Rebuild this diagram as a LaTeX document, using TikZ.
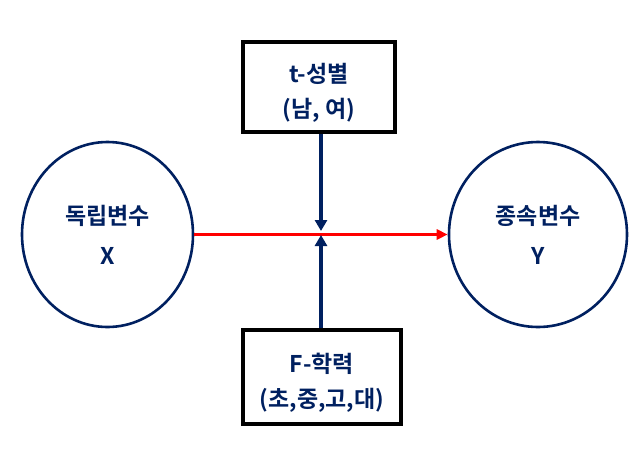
\documentclass[tikz,border=0pt]{standalone}
\usepackage{fontspec}
\newfontfamily\kr{Noto Sans CJK KR Bold}
\usetikzlibrary{arrows.meta,shapes.geometric}
\definecolor{navy}{RGB}{0,32,96}
\begin{document}
\begin{tikzpicture}[x=1pt,y=-1pt,
  lbl/.style={text=navy,font=\kr\fontsize{23}{40}\selectfont,align=center},
  blbl/.style={text=navy,font=\kr\fontsize{23}{35}\selectfont,align=center},
  circ/.style={draw=navy,line width=2.6pt,ellipse,inner sep=0pt},
  boxn/.style={draw=black,line width=4.5pt,inner sep=0pt},
  navyarrow/.style={draw=navy,line width=3.6pt,-{Triangle[width=12pt,length=11pt]}},
  redarrow/.style={draw=red,line width=2.8pt,-{Triangle[width=10pt,length=11pt]}}]
\useasboundingbox (0,0) rectangle (638,467);
\node[circ,minimum width=171pt,minimum height=185pt] (l) at (107.5,234.5) {};
\node[circ,minimum width=178pt,minimum height=185pt] (r) at (538,234.5) {};
\node[lbl] (x) at (107.5,235) {독립변수\\X};
\node[lbl] (y) at (538,235) {종속변수\\Y};
\node[boxn,minimum width=152pt,minimum height=90pt] (t) at (319,87) {};
\node[blbl] (tt) at (319,92.5) {t-성별\\(남, 여)};
\node[boxn,minimum width=158pt,minimum height=94pt] (f) at (322,377) {};
\node[blbl] (ft) at (322,382.5) {F-학력\\(초,중,고,대)};
\coordinate (c1) at (321,231);
\coordinate (c2) at (321,235);
\draw[redarrow] (l.east) -- (r.west);
\draw[navyarrow] (t.south -| c1) -- (c1);
\draw[navyarrow] (f.north -| c2) -- (c2);
\end{tikzpicture}
\end{document}
